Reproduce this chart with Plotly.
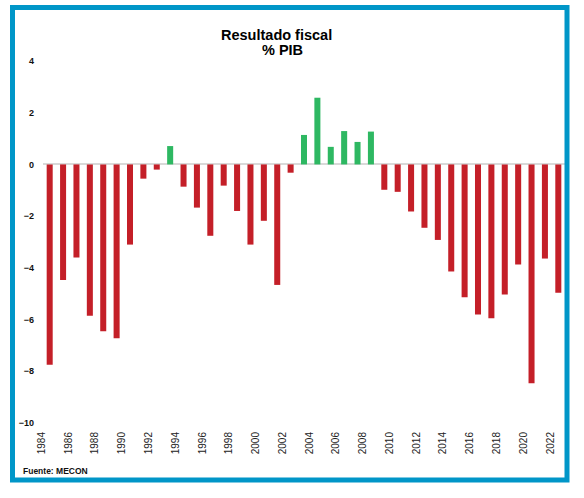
import plotly.graph_objects as go

# Resultado fiscal, % del PIB
anios = list(range(1984, 2023))
resultado = [
    -7.75, -4.47, -3.6, -5.85, -6.45, -6.72, -3.1, -0.55, -0.2, 0.71,
    -0.86, -1.67, -2.76, -0.82, -1.8, -3.1, -2.18, -4.66, -0.32, 1.14,
    2.58, 0.68, 1.29, 0.87, 1.27, -0.98, -1.06, -1.82, -2.45, -2.92,
    -4.14, -5.14, -5.8, -5.95, -5.03, -3.87, -8.46, -3.64, -4.96,
]
etiquetas_x = list(range(1984, 2023, 2))
etiquetas_y = [-10, -8, -6, -4, -2, 0, 2, 4]

rojo = "#C41F28"
verde = "#2EB862"
colores = [verde if v > 0 else rojo for v in resultado]

# margenes en px para ubicar el marco y los textos
L, R, T, B = 43, 19, 61, 75
W, H = 584, 498
ancho = W - L - R
alto = H - T - B


def px_x(p):
    return (p - L) / ancho


def px_y(p):
    return (H - B - p) / alto


fig = go.Figure()
fig.add_trace(go.Bar(
    x=anios, y=resultado,
    marker=dict(color=colores, line=dict(width=0)),
    width=0.45,
    hoverinfo="x+y",
))

fig.update_layout(
    width=W, height=H,
    margin=dict(l=L, r=R, t=T, b=B),
    paper_bgcolor="white",
    plot_bgcolor="white",
    showlegend=False,
    font=dict(family="Liberation Sans, Arial, sans-serif", color="#111111"),
)

fig.update_xaxes(
    range=[1983.5, 2022.5],
    tickmode="array",
    tickvals=etiquetas_x,
    ticktext=[str(a) for a in etiquetas_x],
    tickangle=-90,
    ticklabelshift=-8,
    ticklabelstandoff=6,
    tickfont=dict(size=10, color="#222222"),
    showgrid=False, showline=False, zeroline=False, ticks="",
)
fig.update_yaxes(
    range=[-10, 4],
    tickmode="array",
    tickvals=etiquetas_y,
    tickfont=dict(size=9, weight="bold", color="#111111"),
    ticklabelstandoff=8,
    showgrid=False, showline=False, ticks="",
    zeroline=True, zerolinecolor="#D9D9D9", zerolinewidth=2,
)

# titulo en dos lineas
fig.add_annotation(text="<b>Resultado fiscal</b>", x=px_x(276.5), y=px_y(35.5),
                   xref="paper", yref="paper", showarrow=False,
                   xanchor="center", yanchor="middle",
                   font=dict(size=14.5, color="#000000"))
fig.add_annotation(text="<b>% PIB</b>", x=px_x(282.5), y=px_y(50),
                   xref="paper", yref="paper", showarrow=False,
                   xanchor="center", yanchor="middle",
                   font=dict(size=14.5, color="#000000"))

# fuente
fig.add_annotation(text="<b>Fuente: MECON</b>", x=px_x(21), y=px_y(470.7),
                   xref="paper", yref="paper", showarrow=False,
                   xanchor="left", yanchor="middle",
                   font=dict(size=8.5, color="#111111"))

# marco azul
fig.add_shape(type="rect", xref="paper", yref="paper",
              x0=px_x(12.5), x1=px_x(567), y0=px_y(480), y1=px_y(7.5),
              line=dict(color="#0096C8", width=5), fillcolor="rgba(0,0,0,0)",
              layer="above")

# quitar el margen por defecto del body para que el grafico calce con la ventana
fig.write_html("out.html", config={"displayModeBar": False},
               post_script="document.body.style.margin='0';")
